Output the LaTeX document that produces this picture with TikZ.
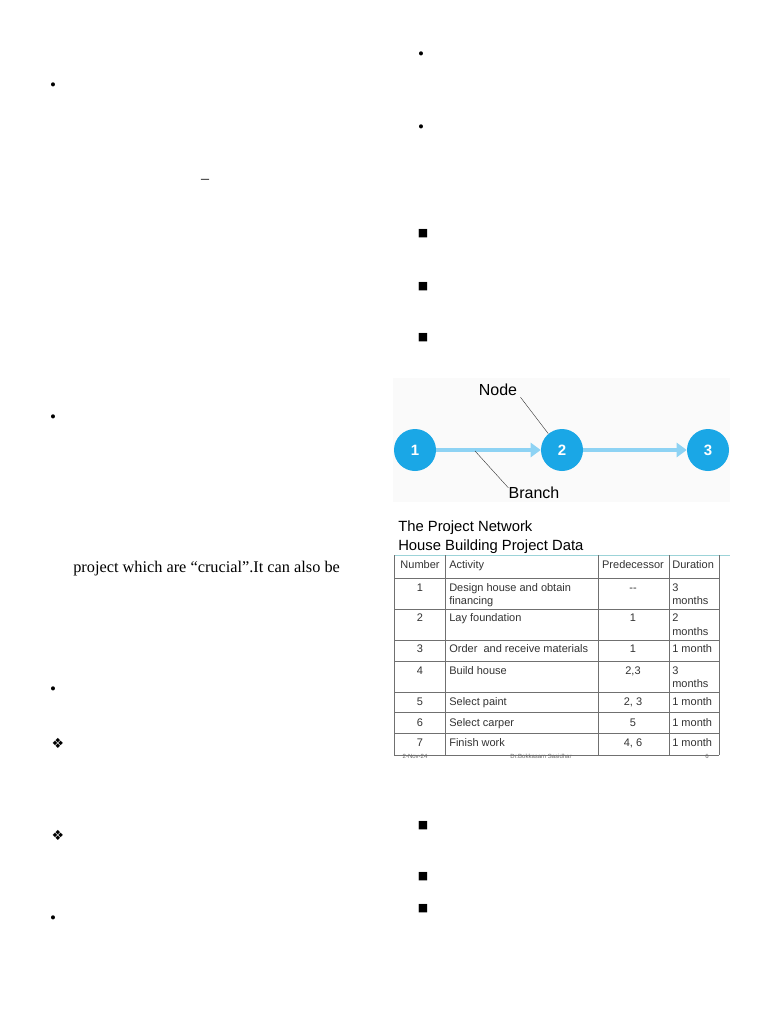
\documentclass[tikz,border=0pt]{standalone}
\usepackage{fontspec}
\setmainfont{Liberation Serif}
\newfontfamily\sansfam{Liberation Sans}
\newfontfamily\symfam{DejaVu Sans}
\usetikzlibrary{arrows.meta}
\definecolor{nodeblue}{HTML}{1AA7E6}
\definecolor{branchblue}{HTML}{8ED3F4}
\definecolor{ruleteal}{HTML}{9CD3D8}
\definecolor{gridgray}{HTML}{707070}
\tikzset{
  netnode/.style={circle, fill=nodeblue, minimum size=42pt, inner sep=0pt, text=white,
    font=\sansfam\bfseries\fontsize{15}{17}\selectfont},
  branch/.style={branchblue, line width=4pt, -{Triangle[length=10pt, width=14pt]}},
  callout/.style={inner sep=0pt, font=\sansfam\fontsize{16}{18}\selectfont},
  cell/.style={anchor=base west, inner sep=0pt, font=\sansfam\fontsize{11}{13}\selectfont, text=black!80},
  ccell/.style={cell, anchor=base},
  dotbullet/.style={inner sep=0pt, font=\fontsize{17}{19}\selectfont},
  sqbullet/.style={inner sep=0pt, font=\symfam\fontsize{11}{13}\selectfont},
  diabullet/.style={inner sep=0pt, font=\symfam\fontsize{14}{16}\selectfont}
}
\begin{document}
\begin{tikzpicture}[x=1pt, y=-1pt, line width=0.6pt]
  \useasboundingbox (0,0) rectangle (768,1024);
  \fill[white] (0,0) rectangle (768,1024);
  % Left column: bullets and text
  \node[dotbullet] (b1) at (53,87) {•};
  \node[inner sep=0pt, font=\fontsize{16}{18}\selectfont] (dash) at (205,181) {–};
  \node[dotbullet] (b2) at (53,419) {•};
  \node[anchor=base west, inner sep=0pt, font=\fontsize{16.3}{19}\selectfont] (crucial) at (73,572)
    {project which are “crucial”.It can also be};
  \node[dotbullet] (b3) at (53,691) {•};
  \node[diabullet] (d1) at (58,743) {❖};
  \node[diabullet] (d2) at (58,835) {❖};
  \node[dotbullet] (b4) at (53,920) {•};
  % Right column bullets
  \node[dotbullet] (b5) at (421,56) {•};
  \node[dotbullet] (b6) at (421,129) {•};
  \node[sqbullet] (s1) at (423,234) {■};
  \node[sqbullet] (s2) at (423,287) {■};
  \node[sqbullet] (s3) at (423,338) {■};
  \node[sqbullet] (s4) at (423,826) {■};
  \node[sqbullet] (s5) at (423,877) {■};
  \node[sqbullet] (s6) at (423,909) {■};
  % Network: nodes and branches
  \fill[black!2] (393,378) rectangle (730,502);
  \node[netnode] (n1) at (415,450) {1};
  \node[netnode] (n2) at (562,450) {2};
  \node[netnode] (n3) at (708,450) {3};
  \draw[branch] (n1) -- (n2);
  \draw[branch] (n2) -- (n3);
  \node[callout] (lnode) at (498,390) {Node};
  \node[callout] (lbranch) at (534,493) {Branch};
  \coordinate (onbranch) at (475,451);
  \draw[black!80, thin] (lnode.south east) ++(3,1) -- (n2.130);
  \draw[black!80, thin] (lbranch.north west) ++(0,1) -- (onbranch);
  % Table title
  \node[anchor=base west, inner sep=0pt, font=\sansfam\fontsize{14.8}{17}\selectfont] (title1) at (398,531) {The Project Network};
  \node[anchor=base west, inner sep=0pt, font=\sansfam\fontsize{14.8}{17}\selectfont] (title2) at (398,550) {House Building Project Data};
  % Table grid
  \draw[ruleteal, line width=1pt] (394,555) -- (730,555);
  \foreach \y in {578,609,640,661,692,712,733,755}
    \draw[gridgray] (394,\y) -- (719,\y);
  \foreach \x in {394,445,598,669,719}
    \draw[gridgray] (\x,555) -- (\x,755);
  % Table header
  \node[ccell] (hnum) at (420,568) {Number};
  \node[cell] (hact) at (449,568) {Activity};
  \node[ccell] (hpre) at (633,568) {Predecessor};
  \node[cell] (hdur) at (672,568) {Duration};
  % Table rows
  \node[ccell] at (420,591) {1};
  \node[cell] at (449,591) {Design house and obtain};
  \node[cell] at (449,604) {financing};
  \node[ccell] at (633,591) {{-}{-}};
  \node[cell] at (672,591) {3};
  \node[cell] at (672,604) {months};
  \node[ccell] at (420,621) {2};
  \node[cell] at (449,621) {Lay foundation};
  \node[ccell] at (633,621) {1};
  \node[cell] at (672,621) {2};
  \node[cell] at (672,635) {months};
  \node[ccell] at (420,652) {3};
  \node[cell] at (449,652) {Order\ \ and receive materials};
  \node[ccell] at (633,652) {1};
  \node[cell] at (672,652) {1 month};
  \node[ccell] at (420,674) {4};
  \node[cell] at (449,674) {Build house};
  \node[ccell] at (633,674) {2,3};
  \node[cell] at (672,674) {3};
  \node[cell] at (672,687) {months};
  \node[ccell] at (420,705) {5};
  \node[cell] at (449,705) {Select paint};
  \node[ccell] at (633,705) {2, 3};
  \node[cell] at (672,705) {1 month};
  \node[ccell] at (420,726) {6};
  \node[cell] at (449,726) {Select carper};
  \node[ccell] at (633,726) {5};
  \node[cell] at (672,726) {1 month};
  \node[ccell] at (420,746) {7};
  \node[cell] at (449,746) {Finish work};
  \node[ccell] at (633,746) {4, 6};
  \node[cell] at (672,746) {1 month};
  % Slide footer
  \node[inner sep=0pt, font=\sansfam\fontsize{6}{7}\selectfont, text=black!60] (fdate) at (415,756) {2-Nov-24};
  \node[inner sep=0pt, font=\sansfam\fontsize{6}{7}\selectfont, text=black!60] (fauthor) at (541,756) {Dr.Bokkasam Sasidhar};
  \node[inner sep=0pt, font=\sansfam\fontsize{6}{7}\selectfont, text=black!60] (fpage) at (707,756) {6};
\end{tikzpicture}
\end{document}
